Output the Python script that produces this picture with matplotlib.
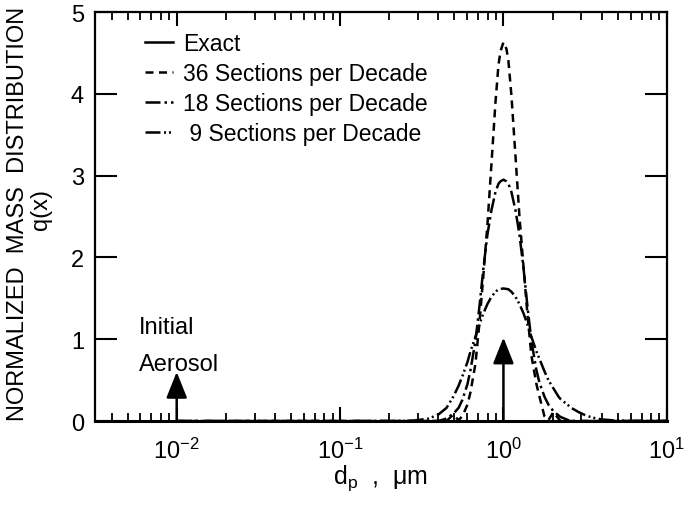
import numpy as np
import matplotlib
matplotlib.use('Agg')
import matplotlib.pyplot as plt
from matplotlib.lines import Line2D

plt.rcParams['font.family'] = ['Liberation Sans', 'DejaVu Sans']
plt.rcParams['mathtext.default'] = 'regular'

# particle diameter grid (um), shared by the three sectional solutions
dp = [0.01, 0.212, 0.282, 0.348, 0.400, 0.448, 0.494, 0.531, 0.561, 0.602,
      0.628, 0.674, 0.713, 0.755, 0.798, 0.845, 0.894, 0.932, 0.959, 1.0,
      1.043, 1.073, 1.119, 1.184, 1.253, 1.325, 1.403, 1.483, 1.592, 1.661,
      1.781, 1.885, 2.022, 2.170, 2.233, 2.500, 2.607, 2.878, 3.220, 3.547,
      3.970, 4.711, 6.25, 10.0]

q36 = [0, 0, 0, 0, 0, 0, 0.08, 0.01, 0.06, 0.20,
       0.35, 0.70, 1.20, 1.80, 2.40, 3.15, 3.90, 4.35, 4.52, 4.63,
       4.55, 4.40, 3.98, 3.25, 2.50, 1.90, 1.30, 0.80, 0.45, 0.30,
       0.06, 0.01, 0.11, 0.03, 0, 0, 0, 0, 0, 0,
       0, 0, 0, 0]

q18 = [0, 0, 0, 0, 0, 0.03, 0.09, 0.16, 0.26, 0.45,
       0.62, 0.98, 1.40, 1.88, 2.28, 2.58, 2.80, 2.90, 2.93, 2.95,
       2.93, 2.90, 2.80, 2.58, 2.28, 1.88, 1.40, 0.98, 0.62, 0.47,
       0.30, 0.20, 0.12, 0.07, 0.05, 0.01, 0, 0, 0, 0,
       0, 0, 0, 0]

q9 = [0, 0, 0.005, 0.03, 0.08, 0.16, 0.30, 0.43, 0.55, 0.72,
      0.85, 1.03, 1.18, 1.32, 1.43, 1.52, 1.58, 1.61, 1.615, 1.62,
      1.615, 1.61, 1.58, 1.52, 1.43, 1.32, 1.18, 1.03, 0.85, 0.76,
      0.61, 0.50, 0.40, 0.30, 0.27, 0.19, 0.16, 0.11, 0.065, 0.04,
      0.02, 0.008, 0.002, 0]

# initial monodisperse aerosol and exact (delta) solution
arrow_x = [0.01, 1.0]
arrow_top = [0.60, 1.02]

legend_labels = ['Exact', '36 Sections per Decade', '18 Sections per Decade',
                 ' 9 Sections per Decade']

fig = plt.figure(figsize=(6.91, 5.10), dpi=100)
ax = fig.add_axes([0.1375, 0.1725, 0.8275, 0.802])

lw = 1.8
ls36 = (0, (3.2, 2.2))
ls18 = (0, (6.0, 1.6, 1.0, 1.6))
ls9 = (0, (6.0, 1.4, 0.8, 1.2, 0.8, 1.4))

ax.plot(dp, q36, color='black', lw=lw, linestyle=ls36)
ax.plot(dp, q18, color='black', lw=lw, linestyle=ls18)
ax.plot(dp, q9, color='black', lw=lw, linestyle=ls9)

for x, top in zip(arrow_x, arrow_top):
    ax.annotate('', xy=(x, top), xytext=(x, 0),
                arrowprops=dict(arrowstyle='-|>,head_length=0.8,head_width=0.32',
                                mutation_scale=20, lw=1.8, color='black',
                                shrinkA=0, shrinkB=0))

ax.text(0.00586, 1.15, 'Initial', fontsize=17, va='center', ha='left')
ax.text(0.00586, 0.70, 'Aerosol', fontsize=17, va='center', ha='left')

ax.set_xscale('log')
ax.set_xlim(10 ** -2.5, 10)
ax.set_ylim(0, 5)
ax.set_yticks([0, 1, 2, 3, 4, 5])
ax.set_xticks([0.01, 0.1, 1, 10])

ax.tick_params(axis='both', which='major', direction='in', top=True, right=True,
               labelsize=17, width=1.5)
ax.tick_params(axis='y', which='major', length=16, pad=8)
ax.tick_params(axis='x', which='major', length=10, pad=12)
ax.tick_params(axis='x', which='minor', direction='in', top=True, length=6, width=1.3)
for s in ax.spines.values():
    s.set_linewidth(1.6)
ax.spines['bottom'].set_linewidth(2.2)

handles = [Line2D([], [], color='black', lw=lw),
           Line2D([], [], color='black', lw=lw, linestyle=ls36),
           Line2D([], [], color='black', lw=lw, linestyle=ls18),
           Line2D([], [], color='black', lw=lw, linestyle=ls9)]
ax.legend(handles, legend_labels, loc='upper left', frameon=False, fontsize=16.5,
          handlelength=1.2, handletextpad=0.45, labelspacing=0.3,
          bbox_to_anchor=(0.06, 0.99), borderaxespad=0.3)

fig.text(18 / 691, 1 - 214 / 510, 'NORMALIZED  MASS  DISTRIBUTION', rotation=90,
         fontsize=17, ha='center', va='center')
fig.text(41 / 691, 1 - 210 / 510, 'q(x)', rotation=90,
         fontsize=17, ha='center', va='center')
fig.text(380 / 691, 1 - 478 / 510, r'$d_p$  ,  $\mu m$', fontsize=18,
         ha='center', va='center')

fig.savefig('out.png', dpi=100)
